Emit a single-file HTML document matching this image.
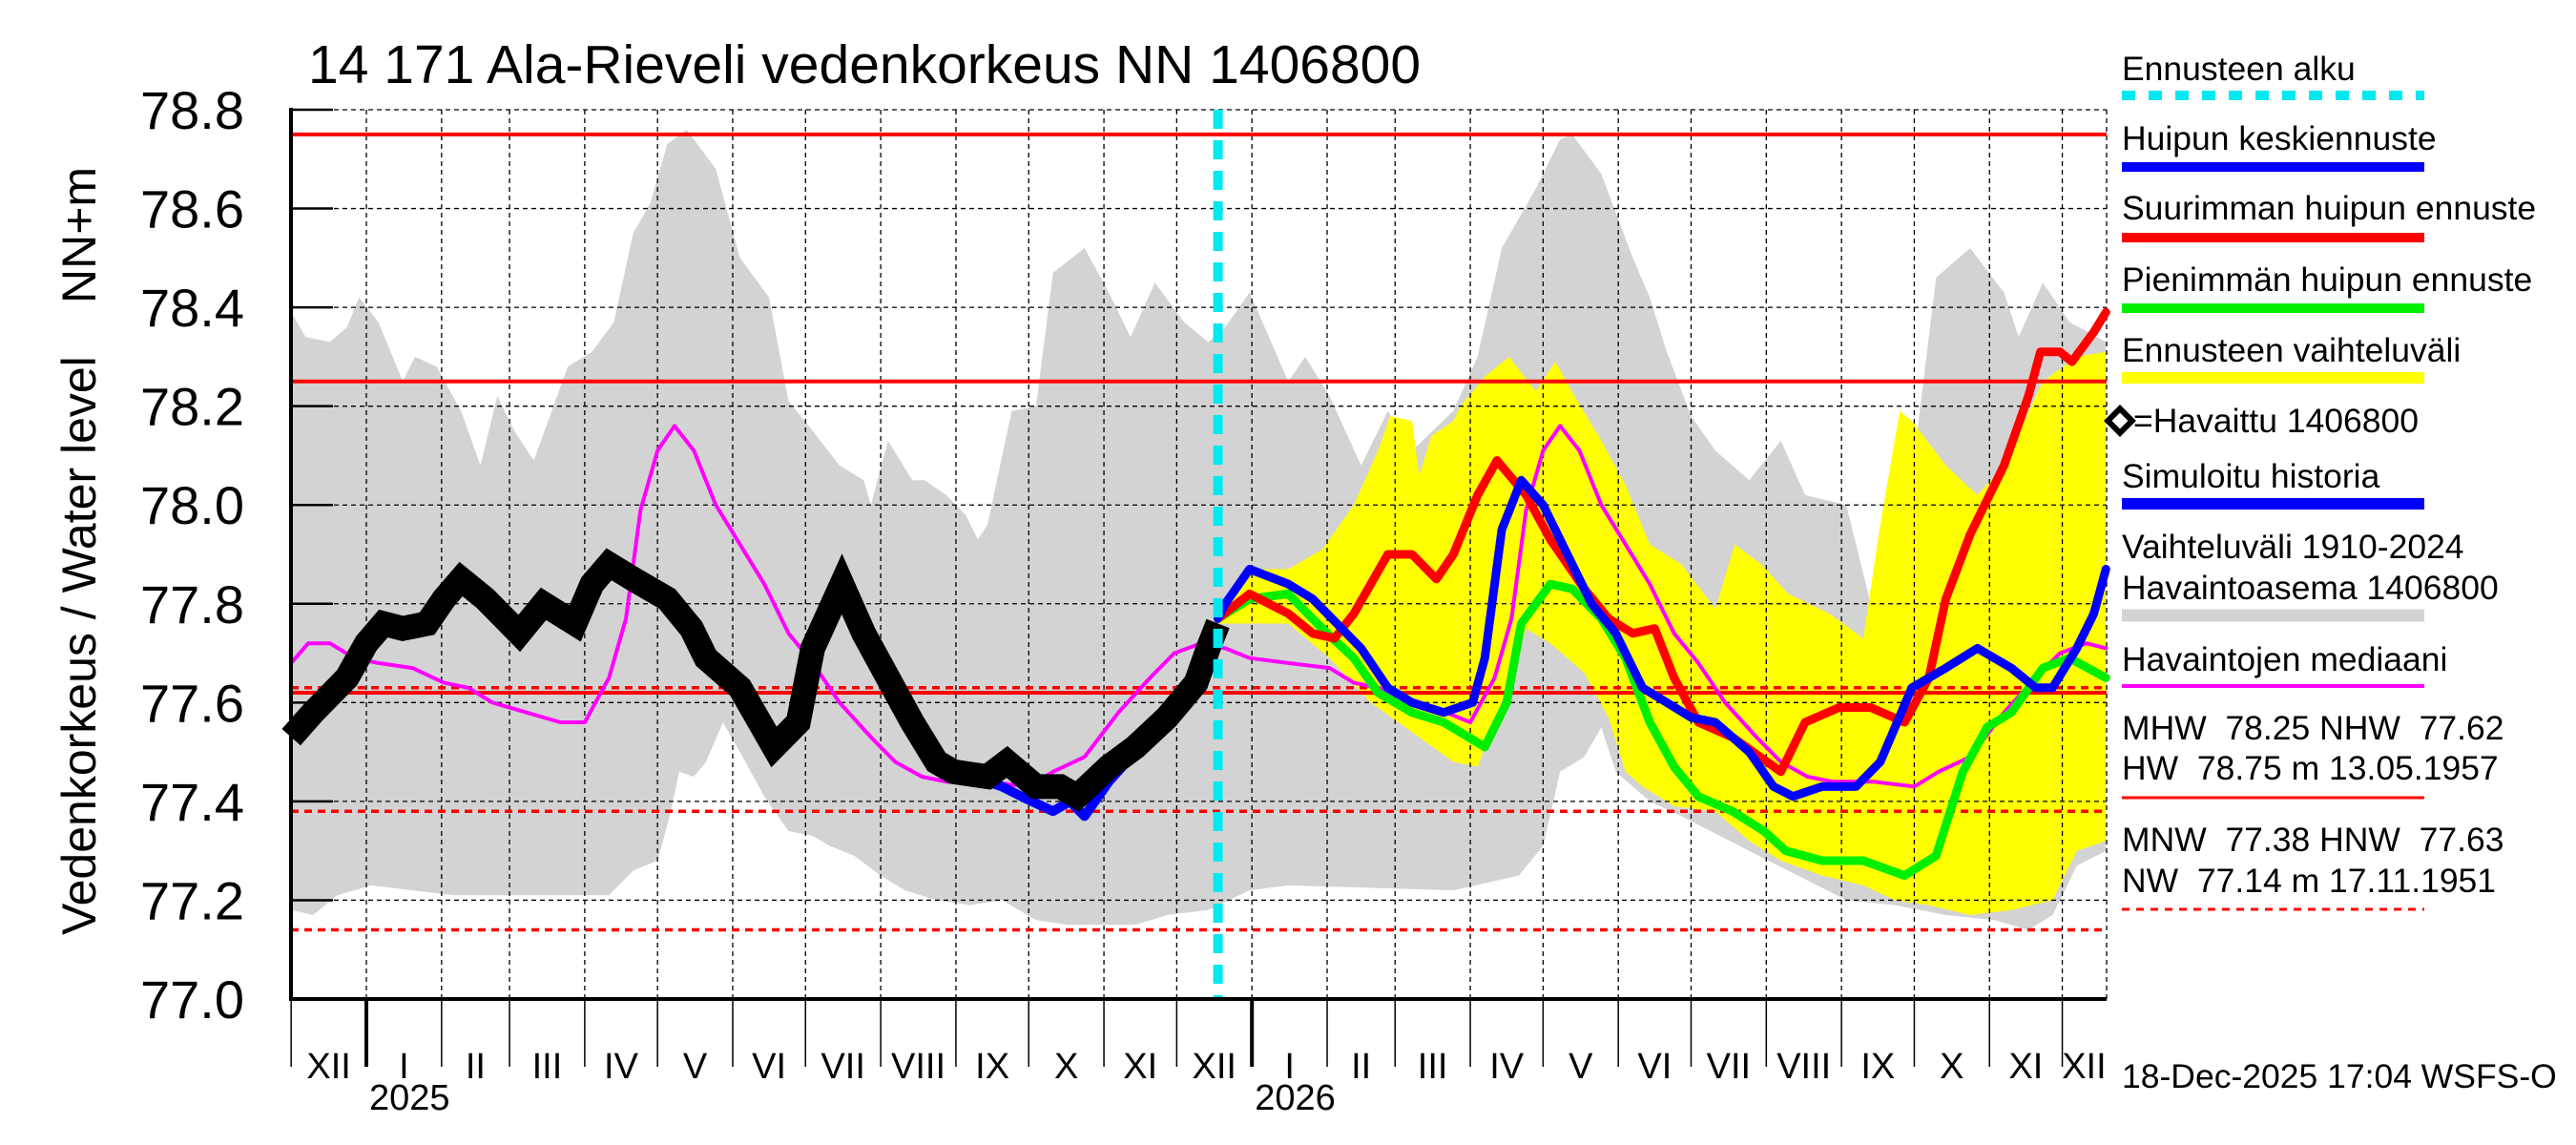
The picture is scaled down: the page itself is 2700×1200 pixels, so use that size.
<!DOCTYPE html>
<html><head><meta charset="utf-8"><style>
html,body{margin:0;padding:0;background:#fff}
svg{display:block}
text{font-family:"Liberation Sans",sans-serif;fill:#000}
</style></head><body>
<svg id="chart" width="2700" height="1200" viewBox="0 0 2700 1200" xmlns="http://www.w3.org/2000/svg">
<text x="323" y="87" font-size="57">14 171 Ala-Rieveli vedenkorkeus NN 1406800</text>
<text transform="translate(100,980) rotate(-90)" font-size="50">Vedenkorkeus / Water level</text>
<text transform="translate(100,318) rotate(-90)" font-size="50">NN+m</text>
<g id="plot"></g>
<g id="legend">
 <text x="2224" y="84" font-size="35.5">Ennusteen alku</text>
 <line x1="2224" y1="100" x2="2541" y2="100" stroke="#00e8f0" stroke-width="10" stroke-dasharray="14,14"/>
 <text x="2224" y="157" font-size="35.5">Huipun keskiennuste</text>
 <line x1="2224" y1="175" x2="2541" y2="175" stroke="#0000ff" stroke-width="10"/>
 <text x="2224" y="230" font-size="35.5">Suurimman huipun ennuste</text>
 <line x1="2224" y1="249" x2="2541" y2="249" stroke="#ff0000" stroke-width="10"/>
 <text x="2224" y="305" font-size="35.5">Pienimmän huipun ennuste</text>
 <line x1="2224" y1="323" x2="2541" y2="323" stroke="#00ee00" stroke-width="10"/>
 <text x="2224" y="379" font-size="35.5">Ennusteen vaihteluväli</text>
 <line x1="2224" y1="396" x2="2541" y2="396" stroke="#ffff00" stroke-width="12"/>
 <rect x="2213" y="432" width="18" height="18" transform="rotate(45 2222 441)" fill="none" stroke="#000" stroke-width="6"/>
 <text x="2236" y="453" font-size="35.5">=Havaittu 1406800</text>
 <text x="2224" y="511" font-size="35.5">Simuloitu historia</text>
 <line x1="2224" y1="528" x2="2541" y2="528" stroke="#0000ff" stroke-width="12"/>
 <text x="2224" y="585" font-size="35.5">Vaihteluväli 1910-2024</text>
 <text x="2224" y="628" font-size="35.5">Havaintoasema 1406800</text>
 <line x1="2224" y1="645" x2="2541" y2="645" stroke="#d3d3d3" stroke-width="13"/>
 <text x="2224" y="703" font-size="35.5">Havaintojen mediaani</text>
 <line x1="2224" y1="719" x2="2541" y2="719" stroke="#ff00ff" stroke-width="4"/>
 <text x="2224" y="775" font-size="35.5" xml:space="preserve">MHW  78.25 NHW  77.62</text>
 <text x="2224" y="817" font-size="35.5" xml:space="preserve">HW  78.75 m 13.05.1957</text>
 <line x1="2224" y1="836" x2="2541" y2="836" stroke="#ff0000" stroke-width="3"/>
 <text x="2224" y="892" font-size="35.5" xml:space="preserve">MNW  77.38 HNW  77.63</text>
 <text x="2224" y="935" font-size="35.5" xml:space="preserve">NW  77.14 m 17.11.1951</text>
 <line x1="2224" y1="953" x2="2541" y2="953" stroke="#ff0000" stroke-width="3" stroke-dasharray="8,7"/>
 <text x="2224" y="1140" font-size="35.5">18-Dec-2025 17:04 WSFS-O</text>
</g>
</svg>
<script>
// day 0 = 1 Jan 2025
const yTicks = [77.0,77.2,77.4,77.6,77.8,78.0,78.2,78.4,78.6,78.8];
const monthLabels = ["XII","I","II","III","IV","V","VI","VII","VIII","IX","X","XI","XII","I","II","III","IV","V","VI","VII","VIII","IX","X","XI","XII"];
const monthStarts = [-31,0,31,59,90,120,151,181,212,243,273,304,334,365,396,424,455,485,516,546,577,608,638,669,699];
const yearLabels = ["2025","2026"];
const yearStarts = [0,365];
const forecastStartDay = 351;
const refLevelsSolid = [78.75,78.25,77.62];
const refLevelsDashed = [77.63,77.38,77.14];

const rangeHighDays = [-31,-25,-15,-8,-3,5,15,20,29,39,47,54,61,69,83,93,102,110,117,124,132,144,154,166,174,184,195,205,208,215,225,230,239,247,252,256,266,276,283,296,306,315,325,337,347,354,364,380,387,397,410,421,431,448,458,468,482,492,497,509,522,529,536,546,556,570,583,593,610,620,624,637,647,661,675,681,691,702,717];
const rangeHigh = [78.39,78.34,78.33,78.36,78.42,78.37,78.25,78.30,78.28,78.19,78.08,78.22,78.15,78.09,78.28,78.31,78.37,78.55,78.61,78.73,78.76,78.68,78.50,78.42,78.21,78.15,78.08,78.05,78.00,78.13,78.05,78.05,78.02,77.98,77.93,77.96,78.19,78.20,78.47,78.52,78.43,78.34,78.45,78.37,78.33,78.36,78.43,78.25,78.30,78.22,78.08,78.19,78.11,78.19,78.30,78.52,78.64,78.74,78.75,78.67,78.50,78.42,78.31,78.18,78.11,78.05,78.13,78.02,78.00,77.80,77.96,78.06,78.46,78.52,78.43,78.34,78.45,78.37,78.33];
const rangeLowDays = [-31,-22,-12,2,19,36,52,69,86,100,110,120,125,129,135,140,147,154,164,174,184,191,201,212,222,235,249,262,276,289,303,317,330,347,364,380,448,475,485,492,502,509,515,529,542,570,590,610,630,651,671,685,695,705,717];
const rangeLow = [77.18,77.17,77.21,77.23,77.22,77.21,77.21,77.21,77.21,77.21,77.26,77.28,77.37,77.46,77.45,77.48,77.56,77.50,77.41,77.34,77.33,77.31,77.29,77.25,77.22,77.20,77.19,77.20,77.16,77.15,77.15,77.15,77.17,77.18,77.22,77.23,77.22,77.25,77.31,77.46,77.49,77.55,77.46,77.40,77.37,77.30,77.25,77.20,77.19,77.17,77.16,77.14,77.17,77.27,77.30];

const fcHighDays = [351,364,380,394,407,417,422,431,434,439,448,451,461,471,482,490,498,509,519,529,542,556,564,575,586,603,617,624,632,637,651,664,675,691,705,717];
const fcHigh = [77.78,77.87,77.87,77.91,78.00,78.11,78.18,78.17,78.06,78.14,78.17,78.20,78.26,78.30,78.23,78.29,78.22,78.13,78.04,77.92,77.88,77.79,77.92,77.88,77.82,77.78,77.73,77.96,78.19,78.17,78.08,78.02,78.08,78.25,78.30,78.31];
const fcLowDays = [351,364,380,397,414,431,448,458,468,478,488,502,512,519,526,539,556,570,583,600,617,630,644,661,678,695,705,717];
const fcLow = [77.76,77.76,77.76,77.69,77.60,77.54,77.48,77.47,77.60,77.75,77.72,77.66,77.57,77.46,77.43,77.39,77.38,77.32,77.28,77.25,77.23,77.20,77.19,77.17,77.18,77.20,77.30,77.32];

const medianDays = [-31,-24,-15,-5,5,19,32,42,52,66,80,90,100,107,113,120,127,135,144,154,164,174,184,195,208,218,229,239,256,273,283,296,310,323,333,344,354,364,380,397,407,417,431,445,455,465,472,478,485,492,500,509,519,529,539,549,560,573,583,594,604,621,638,648,661,675,688,698,709,717];
const median = [77.68,77.72,77.72,77.69,77.68,77.67,77.64,77.63,77.60,77.58,77.56,77.56,77.65,77.77,77.99,78.11,78.16,78.11,78.00,77.92,77.84,77.74,77.68,77.60,77.53,77.48,77.45,77.44,77.44,77.43,77.46,77.49,77.58,77.65,77.70,77.72,77.71,77.69,77.68,77.67,77.64,77.63,77.60,77.58,77.56,77.65,77.77,77.99,78.11,78.16,78.11,78.00,77.92,77.84,77.74,77.68,77.60,77.53,77.48,77.45,77.44,77.44,77.43,77.46,77.49,77.58,77.65,77.70,77.72,77.71];

const simDays = [250,262,270,283,290,296,306,317];
const simulated = [77.45,77.43,77.41,77.38,77.40,77.37,77.44,77.50];

const obsDays = [-31,-22,-8,0,7,15,25,32,39,49,63,73,86,93,100,110,124,134,140,154,168,178,184,196,205,215,225,235,242,256,264,276,286,293,306,317,330,342,347,351];
const observed = [77.53,77.58,77.65,77.72,77.76,77.75,77.76,77.81,77.85,77.81,77.74,77.80,77.76,77.84,77.88,77.85,77.81,77.75,77.69,77.63,77.51,77.56,77.71,77.84,77.74,77.65,77.56,77.48,77.46,77.45,77.48,77.43,77.43,77.41,77.47,77.51,77.57,77.64,77.71,77.76];

const meanFcDays = [351,354,364,380,390,400,410,421,431,444,456,461,468,476,485,495,505,515,526,536,546,556,570,580,588,600,614,624,637,651,664,678,688,695,705,712,717];
const meanFc = [77.77,77.80,77.87,77.84,77.81,77.76,77.71,77.63,77.60,77.58,77.60,77.69,77.95,78.05,78.00,77.90,77.80,77.74,77.63,77.60,77.57,77.56,77.50,77.43,77.41,77.43,77.43,77.48,77.63,77.67,77.71,77.67,77.63,77.63,77.71,77.78,77.87];
const maxFcDays = [351,364,380,390,399,407,421,431,441,448,458,466,478,488,502,512,522,531,539,549,563,583,593,607,620,634,644,651,661,675,685,690,698,703,712,717];
const maxFc = [77.77,77.82,77.78,77.74,77.73,77.78,77.90,77.90,77.85,77.90,78.02,78.09,78.02,77.93,77.83,77.77,77.74,77.75,77.65,77.56,77.53,77.46,77.56,77.59,77.59,77.56,77.65,77.81,77.94,78.08,78.22,78.31,78.31,78.29,78.35,78.39];
const minFcDays = [351,364,380,394,407,417,431,444,461,470,476,488,497,509,519,529,539,549,563,576,585,600,617,634,647,658,668,678,691,702,717];
const minFc = [77.77,77.81,77.82,77.75,77.69,77.62,77.58,77.56,77.51,77.60,77.76,77.84,77.83,77.77,77.69,77.56,77.47,77.41,77.38,77.34,77.30,77.28,77.28,77.25,77.29,77.46,77.55,77.58,77.67,77.69,77.65];

const L=305,R=2208,T=115,B=1047;
function xs(d){return 384 + d*2.543;}
function ys(v){return T + (78.8 - v)*(B-T)/1.8;}
const NS="http://www.w3.org/2000/svg";
const plot=document.getElementById('plot');
function mk(tag,attrs){const e=document.createElementNS(NS,tag);for(const k in attrs)e.setAttribute(k,attrs[k]);plot.appendChild(e);return e;}
function pts(days,vals){return days.map((d,i)=>xs(d).toFixed(1)+','+ys(vals[i]).toFixed(1)).join(' ');}
function band(d1,v1,d2,v2){const up=d1.map((d,i)=>xs(d).toFixed(1)+','+ys(v1[i]).toFixed(1));const lo=d2.map((d,i)=>xs(d).toFixed(1)+','+ys(v2[i]).toFixed(1)).reverse();return up.concat(lo).join(' ');}

let e;
e=mk('polygon',{points:band(rangeHighDays,rangeHigh,rangeLowDays,rangeLow),fill:'#d3d3d3'});


e=mk('polygon',{points:band(fcHighDays,fcHigh,fcLowDays,fcLow),fill:'#ffff00'});



yTicks.forEach(v=>{
  e=mk('line',{x1:L,x2:R,y1:ys(v),y2:ys(v),stroke:'#000','stroke-width':1.3,'stroke-dasharray':'5,4'});
  
  
  e=mk('line',{x1:L,x2:L+44,y1:ys(v),y2:ys(v),stroke:'#000','stroke-width':2.5});
  
  
  e=mk('text',{x:256,y:ys(v)+20,'font-size':56,'text-anchor':'end'});
  e.textContent=v.toFixed(1);
  
  
});
monthStarts.forEach((d,i)=>{
  if(i>0){
    e=mk('line',{x1:xs(d),x2:xs(d),y1:T,y2:B,stroke:'#000','stroke-width':1.3,'stroke-dasharray':'5,4'});
    
    
  }
  const isYear=yearStarts.indexOf(d)>=0;
  e=mk('line',{x1:xs(d),x2:xs(d),y1:B,y2:1118,stroke:'#000','stroke-width':isYear?4:1.5});
  
  
  const next = i+1<monthStarts.length?monthStarts[i+1]:717;
  e=mk('text',{x:(xs(d)+xs(Math.min(next,717)))/2,y:1130,'font-size':38,'text-anchor':'middle'});
  e.textContent=monthLabels[i];
  
  
});
e=mk('line',{x1:R,x2:R,y1:T,y2:B,stroke:'#000','stroke-width':1.3,'stroke-dasharray':'5,4'});


yearStarts.forEach((d,i)=>{
  e=mk('text',{x:xs(d)+3,y:1163,'font-size':38});
  e.textContent=yearLabels[i];
  
  
});

refLevelsSolid.forEach(v=>{
  e=mk('line',{x1:L,x2:R,y1:ys(v),y2:ys(v),stroke:'#ff0000','stroke-width':4});
  
  
});
refLevelsDashed.forEach(v=>{
  e=mk('line',{x1:L,x2:R,y1:ys(v),y2:ys(v),stroke:'#ff0000','stroke-width':3.5,'stroke-dasharray':'8,6'});
  
  
});

function line(days,vals,color,w){return mk('polyline',{points:pts(days,vals),fill:'none',stroke:color,'stroke-width':w,'stroke-linejoin':'round','stroke-linecap':'round'});}
e=line(medianDays,median,'#ff00ff',4);


e=line(simDays,simulated,'#0000ff',10);


e=mk('polyline',{points:pts(obsDays,observed),fill:'none',stroke:'#000','stroke-width':26,'stroke-linejoin':'miter'});


e=line(minFcDays,minFc,'#00ee00',9);


e=line(maxFcDays,maxFc,'#ff0000',9);


e=line(meanFcDays,meanFc,'#0000ff',9);


e=mk('line',{x1:xs(forecastStartDay),x2:xs(forecastStartDay),y1:T,y2:B,stroke:'#00e8f0','stroke-width':10,'stroke-dasharray':'20,12'});



e=mk('line',{x1:L,x2:L,y1:T-2,y2:B+2,stroke:'#000','stroke-width':4});


e=mk('line',{x1:L-2,x2:R,y1:B,y2:B,stroke:'#000','stroke-width':4});


</script>
</body></html>
